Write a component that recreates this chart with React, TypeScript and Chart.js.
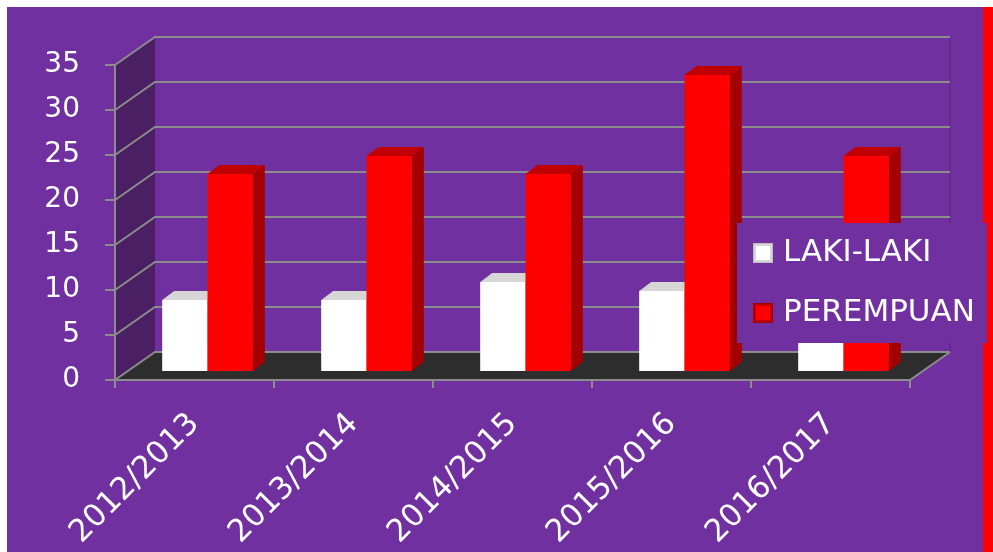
import React, { useEffect, useRef } from "react";
import { Chart, registerables } from "chart.js";

Chart.register(...registerables);

const categories = ["2012/2013", "2013/2014", "2014/2015", "2015/2016", "2016/2017"];
const lakiLaki = [8, 8, 10, 9, 8];
const perempuan = [22, 24, 22, 33, 24];
const seriesNames = ["LAKI-LAKI", "PEREMPUAN"];
const yTickValues = [0, 5, 10, 15, 20, 25, 30, 35];

const W = 993;
const H = 552;
const PURPLE = "#7030A0";
const WALL = "#4A1F63";
const FLOOR = "#2D2D2D";
const GRID = "#8C8C8C";
const FONT = "'DejaVu Sans', sans-serif";

const DX = 40; // wall depth x
const DY = 28; // wall depth y
const BX = 13; // bar placement shift in depth
const BY = 8;
const BDX = 12; // bar depth
const BDY = 9;

const faceColors = [
  { front: "#FFFFFF", top: "#D6D6D6", side: "#BDBDBD" },
  { front: "#FF0000", top: "#C00000", side: "#A50000" },
];

function poly(ctx: CanvasRenderingContext2D, pts: number[][], fill?: string, stroke?: string, lw = 1) {
  ctx.beginPath();
  ctx.moveTo(pts[0][0], pts[0][1]);
  for (let i = 1; i < pts.length; i++) ctx.lineTo(pts[i][0], pts[i][1]);
  ctx.closePath();
  if (fill) {
    ctx.fillStyle = fill;
    ctx.fill();
  }
  if (stroke) {
    ctx.strokeStyle = stroke;
    ctx.lineWidth = lw;
    ctx.stroke();
  }
}

const threeDPlugin = {
  id: "threeD",
  beforeDraw(chart: any) {
    const ctx: CanvasRenderingContext2D = chart.ctx;
    const { left, right, top, bottom } = chart.chartArea;
    const ys = chart.scales.y;
    ctx.save();
    ctx.fillStyle = "#FFFFFF";
    ctx.fillRect(0, 0, W, H);
    ctx.fillStyle = PURPLE;
    ctx.fillRect(7, 7, 976, H - 7);
    ctx.fillStyle = "#FF0000";
    ctx.fillRect(983, 7, 10, H - 7);

    // left wall
    poly(ctx, [[left, top], [left + DX, top - DY], [left + DX, bottom - DY], [left, bottom]], WALL);
    // floor
    poly(ctx, [[left, bottom], [left + DX, bottom - DY], [right + DX, bottom - DY], [right, bottom]], FLOOR);

    // back wall right edge
    ctx.strokeStyle = "rgba(60,20,90,0.5)";
    ctx.lineWidth = 1;
    ctx.beginPath();
    ctx.moveTo(right + DX, top - DY);
    ctx.lineTo(right + DX, bottom - DY);
    ctx.stroke();

    // gridlines on left wall and back wall
    ctx.strokeStyle = GRID;
    ctx.lineWidth = 2;
    for (const v of yTickValues) {
      const y = ys.getPixelForValue(v);
      ctx.beginPath();
      ctx.moveTo(left, y);
      ctx.lineTo(left + DX, y - DY);
      ctx.lineTo(right + DX, y - DY);
      ctx.stroke();
    }
    // floor right edge
    ctx.beginPath();
    ctx.moveTo(right, bottom);
    ctx.lineTo(right + DX, bottom - DY);
    ctx.stroke();
    // axis extension below
    ctx.beginPath();
    ctx.moveTo(left, bottom);
    ctx.lineTo(left, bottom + 8);
    ctx.stroke();
    ctx.restore();
  },
  beforeDatasetsDraw(chart: any) {
    const ctx: CanvasRenderingContext2D = chart.ctx;
    ctx.save();
    chart.data.datasets.forEach((ds: any, di: number) => {
      const meta = chart.getDatasetMeta(di);
      const c = faceColors[di];
      meta.data.forEach((el: any) => {
        const { x, y, base, width } = el.getProps(["x", "y", "base", "width"], true);
        const L = x - width / 2 + BX;
        const R = x + width / 2 + BX;
        const T = y - BY;
        const B = base - BY;
        // side
        poly(ctx, [[R, T], [R + BDX, T - BDY], [R + BDX, B - BDY], [R, B]], c.side);
        // top
        poly(ctx, [[L, T], [L + BDX, T - BDY], [R + BDX, T - BDY], [R, T]], c.top);
        // front
        ctx.fillStyle = c.front;
        ctx.fillRect(L, T, R - L, B - T);
      });
    });
    ctx.restore();
    return false;
  },
  afterDraw(chart: any) {
    const ctx: CanvasRenderingContext2D = chart.ctx;
    ctx.save();
    // legend box
    ctx.fillStyle = PURPLE;
    ctx.fillRect(737, 223, 250, 120);
    const items = [
      { y: 253, label: chart.data.datasets[0].label, c: faceColors[0] },
      { y: 313, label: chart.data.datasets[1].label, c: faceColors[1] },
    ];
    for (const it of items) {
      const sx = 753;
      const sy = it.y - 10;
      ctx.fillStyle = it.c.side;
      ctx.fillRect(sx, sy, 20, 20);
      ctx.fillStyle = it.c.top;
      ctx.fillRect(sx + 1, sy + 1, 18, 18);
      ctx.fillStyle = it.c.front;
      ctx.fillRect(sx + 3, sy + 3, 14, 14);
      ctx.fillStyle = "#FFFFFF";
      ctx.font = `31px ${FONT}`;
      ctx.textAlign = "left";
      ctx.textBaseline = "middle";
      ctx.fillText(it.label, 783, it.y);
    }
    ctx.restore();
  },
};

export default function App() {
  const ref = useRef<HTMLCanvasElement | null>(null);
  useEffect(() => {
    if (!ref.current) return;
    const chart = new Chart(ref.current, {
      type: "bar",
      data: {
        labels: categories,
        datasets: [
          { label: seriesNames[0], data: lakiLaki, backgroundColor: faceColors[0].front },
          { label: seriesNames[1], data: perempuan, backgroundColor: faceColors[1].front },
        ],
      },
      options: {
        responsive: false,
        animation: false,
        devicePixelRatio: 1,
        layout: { padding: { left: 0, top: 65, right: 83, bottom: 0 } },
        datasets: { bar: { categoryPercentage: 0.57, barPercentage: 1 } },
        plugins: { legend: { display: false }, tooltip: { enabled: false } },
        scales: {
          x: {
            grid: { offset: true, drawOnChartArea: false, drawTicks: true, tickLength: 8, color: GRID, lineWidth: 2 },
            border: { display: true, color: GRID, width: 2 },
            ticks: { color: "#FFFFFF", font: { family: FONT, size: 31 }, maxRotation: 45, minRotation: 45, padding: 18 },
            afterFit: (s: any) => {
              s.height = 172;
            },
          },
          y: {
            min: 0,
            max: 35,
            ticks: { stepSize: 5, color: "#FFFFFF", font: { family: FONT, size: 28 }, padding: 25 },
            grid: { drawOnChartArea: false, drawTicks: true, tickLength: 10, color: GRID, lineWidth: 2 },
            border: { display: true, color: GRID, width: 2 },
            afterFit: (s: any) => {
              s.width = 115;
            },
          },
        },
      },
      plugins: [threeDPlugin],
    } as any);
    return () => chart.destroy();
  }, []);
  return (
    <div style={{ position: "fixed", left: 0, top: 0, width: W, height: H }}>
      <canvas ref={ref} width={W} height={H} style={{ display: "block", width: W, height: H }} />
    </div>
  );
}
